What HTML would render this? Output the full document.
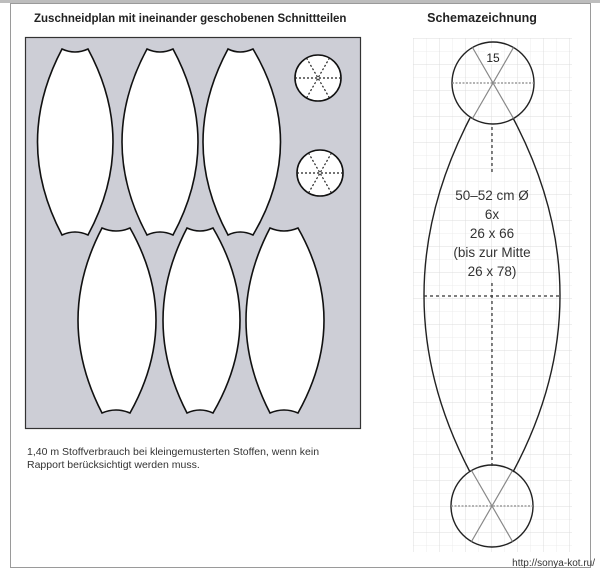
<!DOCTYPE html>
<html><head><meta charset="utf-8"><style>
html,body{margin:0;padding:0;background:#fff;}
svg{display:block;}
text{font-family:"Liberation Sans","DejaVu Sans",sans-serif;}
</style></head><body>
<svg width="600" height="570" viewBox="0 0 600 570" xmlns="http://www.w3.org/2000/svg">
<defs>
<pattern id="gmin" width="13" height="13" patternUnits="userSpaceOnUse" x="413" y="38">
<path d="M0 0H13M0 0V13" stroke="#ececec" stroke-width="1" fill="none"/>
</pattern>
<pattern id="gmaj" width="26" height="26" patternUnits="userSpaceOnUse" x="413" y="38">
<path d="M0 0H26M0 0V26" stroke="#dcdcdc" stroke-width="1" fill="none"/>
</pattern>
</defs>
<rect x="0" y="0" width="600" height="570" fill="#fff"/>
<!-- page frame -->
<rect x="10.5" y="3.5" width="580" height="564" fill="none" stroke="#9a9a9a" stroke-width="1"/>
<rect x="0" y="0" width="600" height="3" fill="#bdbdbd"/>
<!-- titles -->
<text x="34" y="22" font-size="11.5" font-weight="bold" fill="#222">Zuschneidplan mit ineinander geschobenen Schnittteilen</text>
<text x="482" y="22" font-size="12.5" font-weight="bold" fill="#222" text-anchor="middle">Schemazeichnung</text>
<!-- gray cutting plan -->
<rect x="25.5" y="37.5" width="335" height="391" fill="#cdced6" stroke="#333" stroke-width="1.2"/>
<g fill="#fff" stroke="#111" stroke-width="1.6">
<path d="M62 49 Q75 55 88 49 Q138 142 88 235 Q75 229 62 235 Q13 142 62 49Z"/>
<path d="M147 49 Q160 55 173 49 Q223 142 173 235 Q160 229 147 235 Q97 142 147 49Z"/>
<path d="M228 49 Q240 55 253 49 Q308 142 253 235 Q240 229 228 235 Q178 142 228 49Z"/>
<path d="M102 228 Q116 234 130 228 Q182 320 130 413 Q116 407 102 413 Q54 320 102 228Z"/>
<path d="M187 228 Q200 234 213 228 Q267 320 213 413 Q200 407 187 413 Q139 320 187 228Z"/>
<path d="M270 228 Q284 234 298 228 Q350 320 298 413 Q284 407 270 413 Q222 320 270 228Z"/>
<circle cx="318" cy="78" r="23"/>
<circle cx="320" cy="173" r="23"/>
</g>
<g stroke="#222" stroke-width="1.2" stroke-dasharray="2,2" fill="none">
<path d="M295 78H341M306.5 58L329.5 98M329.5 58L306.5 98"/>
<path d="M297 173H343M308.5 153L331.5 193M331.5 153L308.5 193"/>
</g>
<text x="27" y="455" font-size="10.5" fill="#333">1,40 m Stoffverbrauch bei kleingemusterten Stoffen, wenn kein</text>
<text x="27" y="468" font-size="10.5" fill="#333">Rapport berücksichtigt werden muss.</text>
<!-- grid -->
<rect x="413" y="38" width="159" height="514" fill="url(#gmin)"/>
<rect x="413" y="38" width="159" height="514" fill="url(#gmaj)"/>
<!-- schematic -->
<path d="M470 118 Q378 296 470 472 M513 118 Q607 296 513 472" fill="none" stroke="#222" stroke-width="1.4"/>
<circle cx="493" cy="83" r="41" fill="none" stroke="#222" stroke-width="1.4"/>
<circle cx="492" cy="506" r="41" fill="none" stroke="#222" stroke-width="1.4"/>
<g stroke="#888" stroke-width="1.2" fill="none">
<path d="M472.5 47.5L513.5 118.5M513.5 47.5L472.5 118.5"/>
<path d="M471.5 470.5L512.5 541.5M512.5 470.5L471.5 541.5"/>
</g>
<g stroke="#888" stroke-width="1.2" stroke-dasharray="2,1.5" fill="none">
<path d="M452 83H534M451 506H533"/>
</g>
<g stroke="#333" stroke-width="1.2" stroke-dasharray="3,3" fill="none">
<path d="M492 127V175M492 283V466M424 296H560"/>
</g>
<rect x="485" y="48" width="16" height="16" fill="#fff"/>
<text x="493" y="62" font-size="12" fill="#222" text-anchor="middle">15</text>
<g font-size="13.5" fill="#333" text-anchor="middle">
<text x="492" y="200">50–52 cm Ø</text>
<text x="492" y="219">6x</text>
<text x="492" y="238">26 x 66</text>
<text x="492" y="257">(bis zur Mitte</text>
<text x="492" y="276">26 x 78)</text>
</g>
<text x="595" y="566" font-size="10" fill="#333" text-anchor="end" font-family="Liberation Mono, monospace">http://sonya-kot.ru/</text>
</svg>
</body></html>
